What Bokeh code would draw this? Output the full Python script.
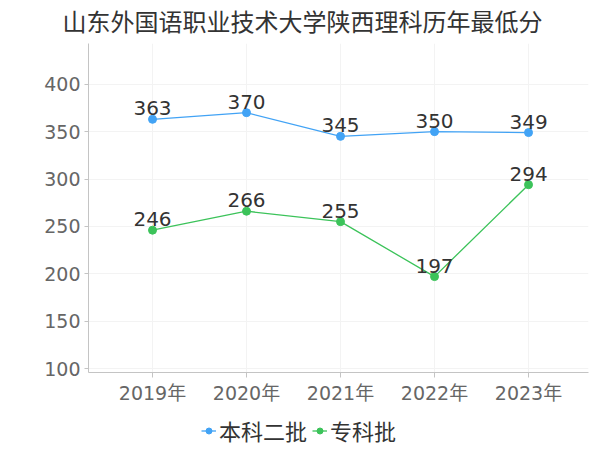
from bokeh.plotting import figure
from bokeh.layouts import column
from bokeh.core.properties import value
from bokeh.models import ColumnDataSource, FixedTicker, Range1d, Legend, LegendItem, LabelSet
from bokeh.embed import file_html
from bokeh.resources import INLINE

years = ["2019年", "2020年", "2021年", "2022年", "2023年"]
benke = [363, 370, 345, 350, 349]
zhuanke = [246, 266, 255, 197, 294]
y_ticks = [100, 150, 200, 250, 300, 350, 400]

FONT = "DejaVu Sans, Noto Sans CJK SC"
NUMFONT = "DejaVu Sans"
BLUE = "#42a3f5"
GREEN = "#3cc35a"

xs = list(range(len(years)))

p = figure(width=600, height=416, output_backend="svg", toolbar_location=None,
           x_range=Range1d(-0.681, len(years) - 1 + 0.638), y_range=Range1d(95.8, 443),
           min_border_left=88, min_border_right=12, min_border_top=43, min_border_bottom=44)

p.title.text = "山东外国语职业技术大学陕西理科历年最低分"
p.title.align = "left"
p.title.offset = -26
p.title.standoff = 13
p.title.text_line_height = 1.0
p.title.text_font = FONT
p.title.text_font_size = "24px"
p.title.text_font_style = "normal"
p.title.text_color = "#333333"

p.outline_line_color = None
p.background_fill_color = "white"

# axes
p.xaxis.ticker = FixedTicker(ticks=xs)
p.xaxis.major_label_overrides = {i: y for i, y in enumerate(years)}
p.yaxis.ticker = FixedTicker(ticks=y_ticks)
for ax in (p.xaxis, p.yaxis):
    ax.axis_line_color = "#c4c4c4"
    ax.major_tick_line_color = "#c4c4c4"
    ax.minor_tick_line_color = None
    ax.major_tick_in = 0
    ax.major_tick_out = 5
    ax.major_label_text_color = "#666666"
    ax.major_label_text_font = FONT
    ax.major_label_text_font_size = "19px"
p.yaxis.major_tick_out = 4
p.xaxis.major_label_standoff = 4
p.yaxis.major_label_standoff = 4

p.xgrid.ticker = FixedTicker(ticks=xs)
p.xgrid.grid_line_color = "#f3f3f3"
p.ygrid.grid_line_color = "#f3f3f3"

src1 = ColumnDataSource(dict(x=xs, y=benke, t=[str(v) for v in benke]))
src2 = ColumnDataSource(dict(x=xs, y=zhuanke, t=[str(v) for v in zhuanke]))

p.line("x", "y", source=src1, line_color=BLUE, line_width=1.3)
p.scatter("x", "y", source=src1, size=8, fill_color=BLUE, line_color=BLUE)
p.line("x", "y", source=src2, line_color=GREEN, line_width=1.3)
p.scatter("x", "y", source=src2, size=8, fill_color=GREEN, line_color=GREEN)

for src in (src1, src2):
    p.add_layout(LabelSet(x="x", y="y", text="t", source=src, y_offset=4,
                          text_align="center", text_baseline="alphabetic",
                          text_font=value(NUMFONT), text_font_size=value("20px"),
                          text_color="#333333"))

# legend strip below the chart (its frame is aligned with the chart's frame)
lg = figure(width=600, height=34, output_backend="svg", toolbar_location=None,
            x_range=Range1d(0, 1), y_range=Range1d(0, 1),
            min_border_left=0, min_border_right=0, min_border_top=0, min_border_bottom=0)
lg.axis.visible = False
lg.grid.visible = False
lg.outline_line_color = None
hidden = ColumnDataSource(dict(x=[-5], y=[-5]))
el1 = lg.line("x", "y", source=hidden, line_color=BLUE, line_width=1.3)
ec1 = lg.scatter("x", "y", source=hidden, size=8, fill_color=BLUE, line_color=BLUE)
el2 = lg.line("x", "y", source=hidden, line_color=GREEN, line_width=1.3)
ec2 = lg.scatter("x", "y", source=hidden, size=8, fill_color=GREEN, line_color=GREEN)

legend = Legend(items=[LegendItem(label="本科二批", renderers=[el1, ec1]),
                       LegendItem(label="专科批", renderers=[el2, ec2])],
                orientation="horizontal", location=(113, 4),
                label_text_font=FONT, label_text_font_size="22px", label_text_color="#333333",
                glyph_width=15, glyph_height=15, spacing=5, label_standoff=3,
                padding=0, margin=0, border_line_color=None, background_fill_alpha=0)
lg.add_layout(legend)

layout = column(p, lg, spacing=0)
open("out.html", "w").write(file_html(layout, INLINE))
